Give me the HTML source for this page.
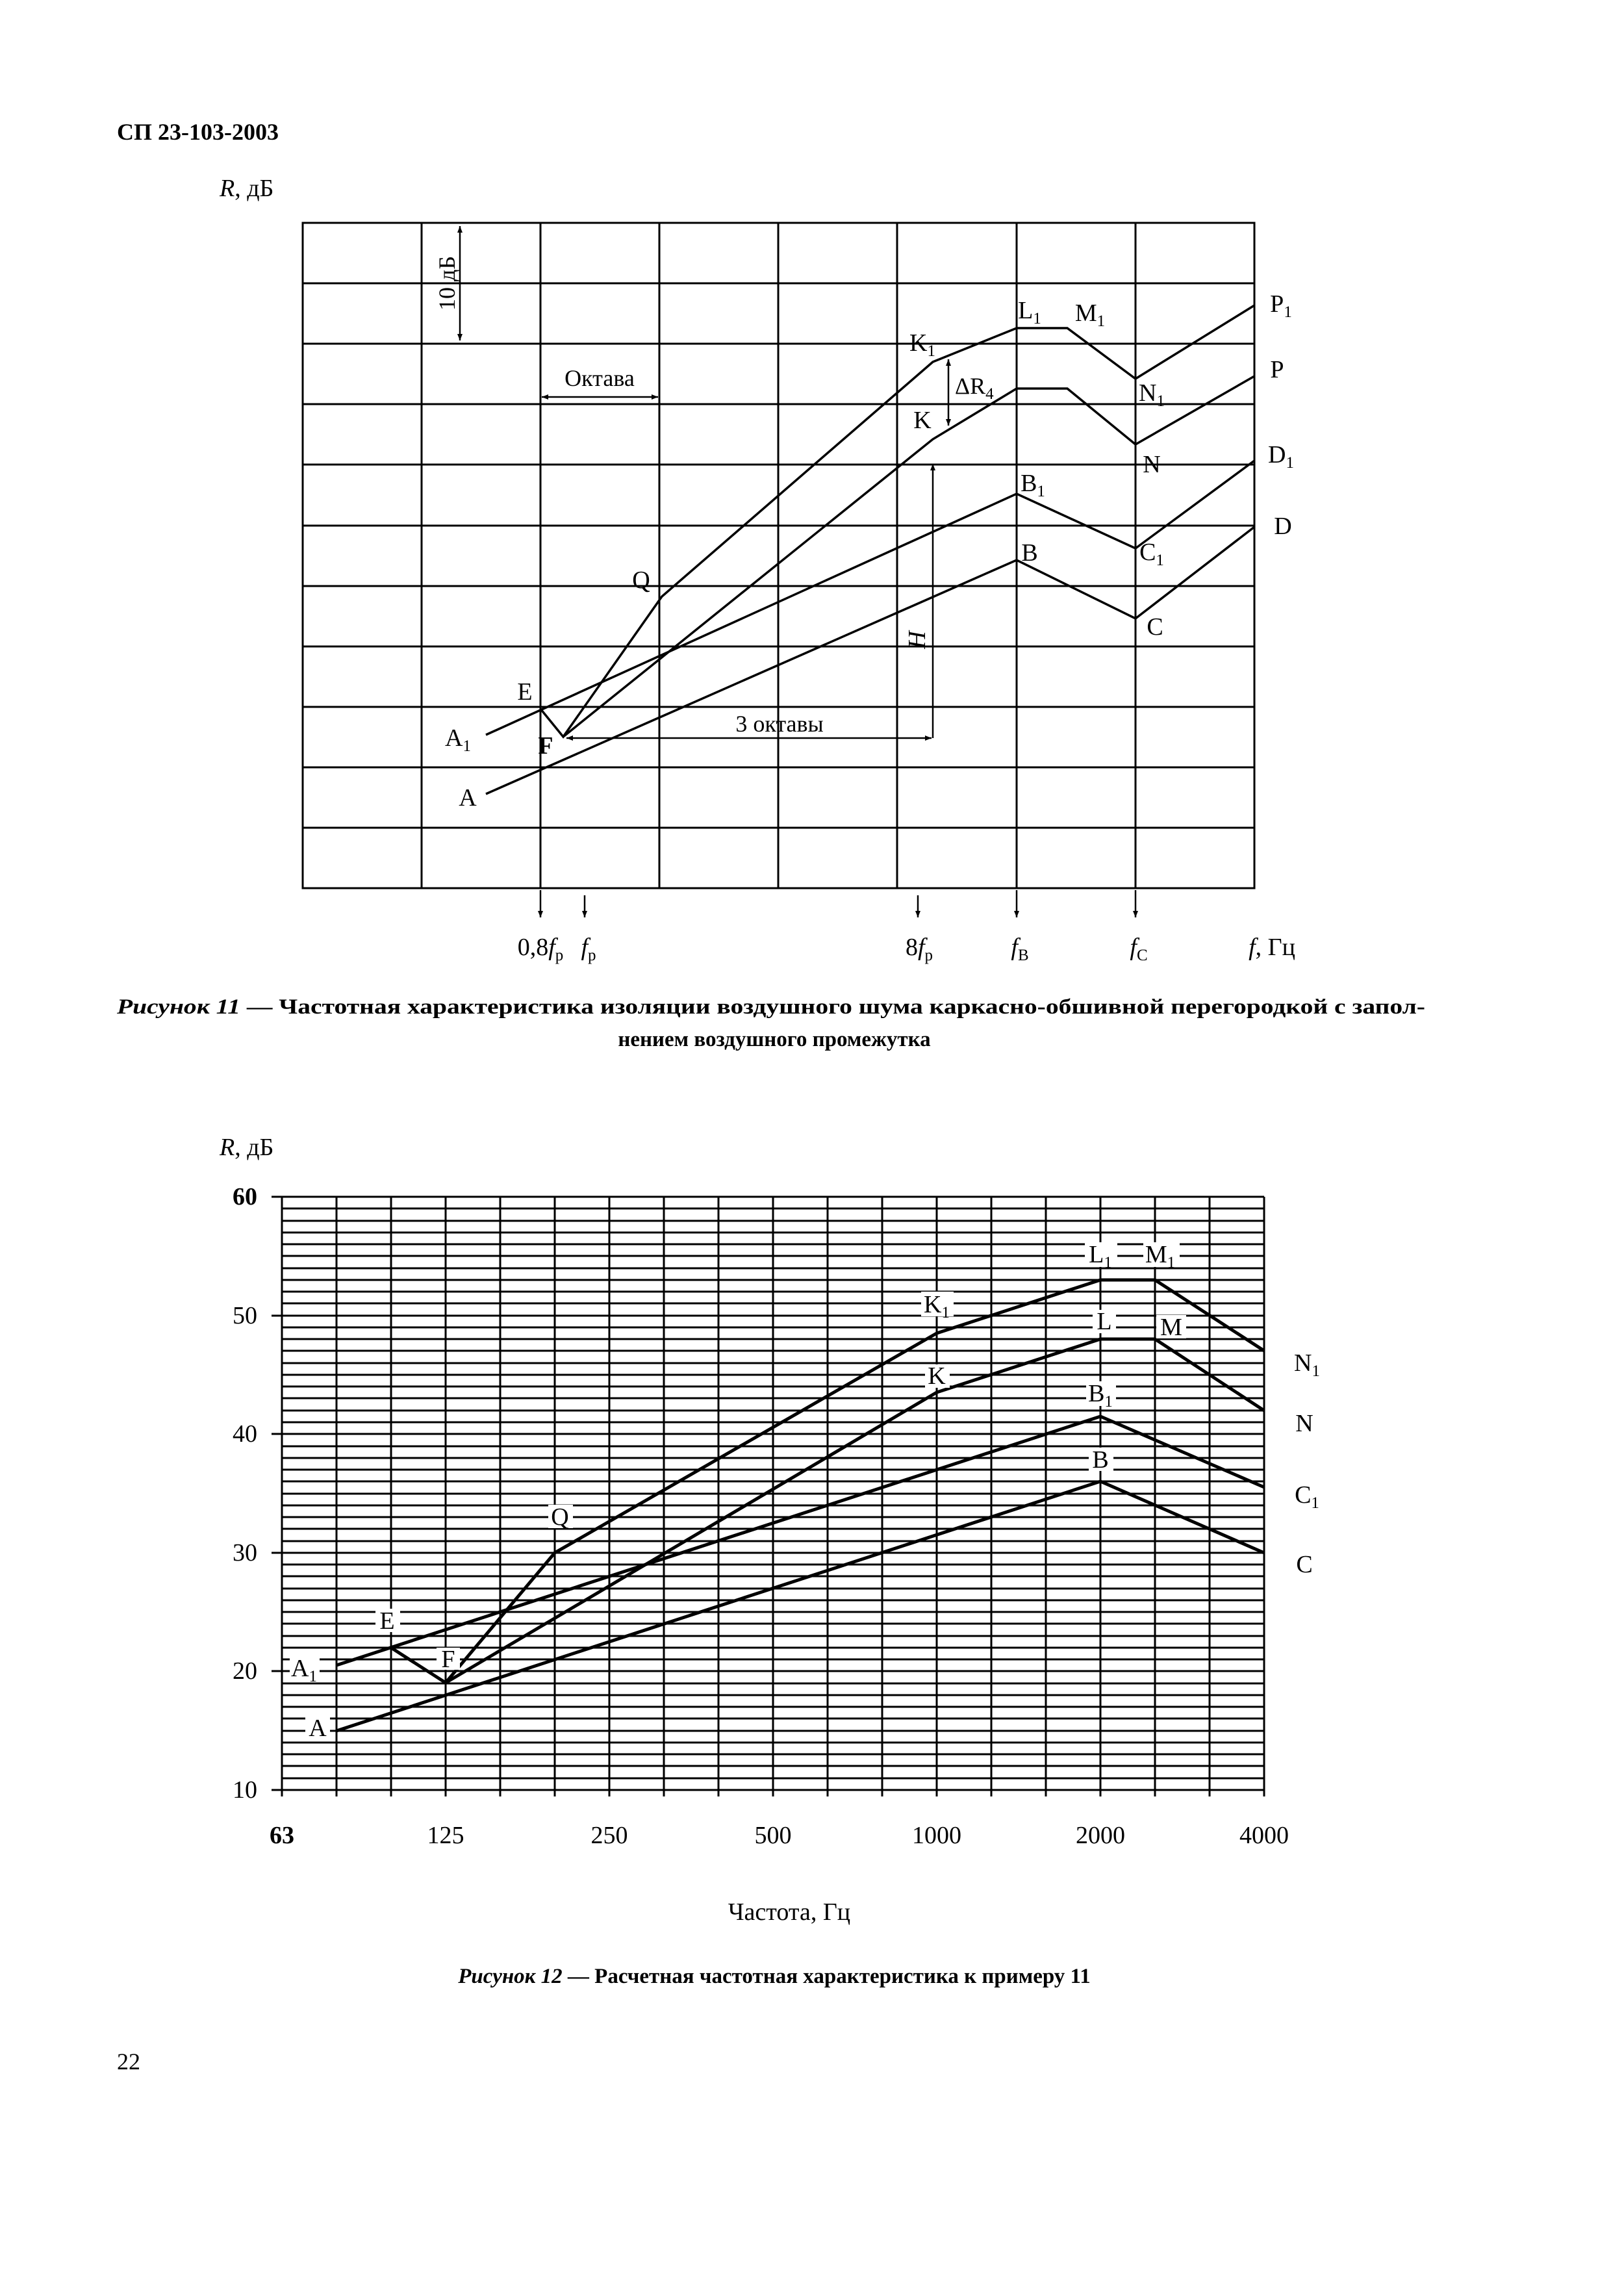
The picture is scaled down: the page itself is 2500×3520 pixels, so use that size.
<!DOCTYPE html>
<html><head><meta charset="utf-8"><style>
html,body{margin:0;padding:0;background:#fff;}
svg{display:block;}
text{font-family:"Liberation Serif",serif;fill:#000;}
</style></head><body>
<svg width="2500" height="3520" viewBox="0 0 2500 3520" xmlns="http://www.w3.org/2000/svg">
<defs>
<marker id="ar" viewBox="0 0 10 10" refX="10" refY="5" markerWidth="18" markerHeight="10" orient="auto-start-reverse" markerUnits="userSpaceOnUse"><path d="M0,1 L10,5 L0,9 Z" fill="#000"/></marker>
</defs>
<text x="180" y="215" font-size="36" font-weight="bold">СП 23-103-2003</text>

<!-- Figure 11 -->
<text x="338" y="302" font-size="38"><tspan font-style="italic">R</tspan>, дБ</text>
<g stroke="#000" stroke-width="3" fill="none">
<rect x="466" y="343" width="1465" height="1024"/>
<path d="M649,343V1367 M832,343V1367 M1015,343V1367 M1198,343V1367 M1381,343V1367 M1565,343V1367 M1748,343V1367"/>
<path d="M466,436H1931 M466,529H1931 M466,622H1931 M466,715H1931 M466,809H1931 M466,902H1931 M466,995H1931 M466,1088H1931 M466,1181H1931 M466,1274H1931"/>
</g>
<g stroke="#000" stroke-width="3.5" fill="none" stroke-linejoin="miter">
<polyline points="748,1222 1565,862 1748,952 1931,811"/>
<polyline points="748,1131 1565,760 1748,844 1931,709"/>
<polyline points="832,1091 867,1134 1019,918 1436,557 1565,505 1643,505 1748,583 1931,470"/>
<polyline points="867,1134 1436,676 1565,598 1643,598 1748,684 1931,579"/>
</g>
<g stroke="#000" stroke-width="2.5" fill="none">
<line x1="708" y1="348" x2="708" y2="524" marker-start="url(#ar)" marker-end="url(#ar)"/>
<line x1="834" y1="611" x2="1013" y2="611" marker-start="url(#ar)" marker-end="url(#ar)"/>
<line x1="872" y1="1136" x2="1434" y2="1136" marker-start="url(#ar)" marker-end="url(#ar)"/>
<line x1="1436" y1="1136" x2="1436" y2="714" marker-end="url(#ar)"/>
<line x1="1460" y1="553" x2="1460" y2="655" marker-start="url(#ar)" marker-end="url(#ar)"/>
<line x1="832" y1="1370" x2="832" y2="1412" marker-end="url(#ar)"/>
<line x1="900" y1="1378" x2="900" y2="1412" marker-end="url(#ar)"/>
<line x1="1413" y1="1378" x2="1413" y2="1412" marker-end="url(#ar)"/>
<line x1="1565" y1="1370" x2="1565" y2="1412" marker-end="url(#ar)"/>
<line x1="1748" y1="1370" x2="1748" y2="1412" marker-end="url(#ar)"/>
</g>
<text transform="translate(700,436) rotate(-90)" font-size="36" text-anchor="middle">10 дБ</text>
<text x="923" y="594" font-size="36" text-anchor="middle">Октава</text>
<text x="1200" y="1126" font-size="36" text-anchor="middle">3 октавы</text>
<text transform="translate(1424,985) rotate(-90)" font-size="38" font-style="italic" text-anchor="middle">H</text>
<text x="1470" y="606" font-size="36">ΔR<tspan font-size="25" dy="8">4</tspan></text>
<g font-size="38" text-anchor="middle">
<text x="1585" y="490">L<tspan font-size="25" dy="8">1</tspan></text>
<text x="1678" y="494">M<tspan font-size="25" dy="8">1</tspan></text>
<text x="1972" y="480">P<tspan font-size="25" dy="8">1</tspan></text>
<text x="1420" y="540">K<tspan font-size="25" dy="8">1</tspan></text>
<text x="1773" y="617">N<tspan font-size="25" dy="8">1</tspan></text>
<text x="1420" y="659">K</text>
<text x="1966" y="581">P</text>
<text x="1773" y="727">N</text>
<text x="1972" y="712">D<tspan font-size="25" dy="8">1</tspan></text>
<text x="1590" y="756">B<tspan font-size="25" dy="8">1</tspan></text>
<text x="1975" y="822">D</text>
<text x="1585" y="863">B</text>
<text x="1773" y="862">C<tspan font-size="25" dy="8">1</tspan></text>
<text x="987" y="905">Q</text>
<text x="1778" y="977">C</text>
<text x="808" y="1077">E</text>
<text x="705" y="1148">A<tspan font-size="25" dy="8">1</tspan></text>
<text x="840" y="1160" font-weight="bold">F</text>
<text x="720" y="1240">A</text>
</g>
<g font-size="38" text-anchor="middle">
<text x="832" y="1470">0,8<tspan font-style="italic">f</tspan><tspan font-size="25" dy="8">р</tspan></text>
<text x="906" y="1470"><tspan font-style="italic">f</tspan><tspan font-size="25" dy="8">р</tspan></text>
<text x="1415" y="1470">8<tspan font-style="italic">f</tspan><tspan font-size="25" dy="8">р</tspan></text>
<text x="1570" y="1470"><tspan font-style="italic">f</tspan><tspan font-size="25" dy="8">В</tspan></text>
<text x="1753" y="1470"><tspan font-style="italic">f</tspan><tspan font-size="25" dy="8">С</tspan></text>
<text x="1958" y="1470"><tspan font-style="italic">f</tspan>, Гц</text>
</g>
<text x="180" y="1560" font-size="33" font-weight="bold" textLength="2014" lengthAdjust="spacingAndGlyphs"><tspan font-style="italic">Рисунок 11</tspan> — Частотная характеристика изоляции воздушного шума каркасно-обшивной перегородкой с запол-</text>
<text x="1192" y="1610" font-size="33" font-weight="bold" text-anchor="middle">нением воздушного промежутка</text>

<!-- Figure 12 -->
<text x="338" y="1778" font-size="38"><tspan font-style="italic">R</tspan>, дБ</text>
<g stroke="#000" stroke-width="3" fill="none">
<path d="M434,1842H1946 M434,1860H1946 M434,1879H1946 M434,1897H1946 M434,1915H1946 M434,1933H1946 M434,1952H1946 M434,1970H1946 M434,1988H1946 M434,2006H1946 M434,2025H1946 M434,2043H1946 M434,2061H1946 M434,2079H1946 M434,2098H1946 M434,2116H1946 M434,2134H1946 M434,2152H1946 M434,2171H1946 M434,2189H1946 M434,2207H1946 M434,2226H1946 M434,2244H1946 M434,2262H1946 M434,2280H1946 M434,2299H1946 M434,2317H1946 M434,2335H1946 M434,2353H1946 M434,2372H1946 M434,2390H1946 M434,2408H1946 M434,2426H1946 M434,2445H1946 M434,2463H1946 M434,2481H1946 M434,2499H1946 M434,2518H1946 M434,2536H1946 M434,2554H1946 M434,2572H1946 M434,2591H1946 M434,2609H1946 M434,2627H1946 M434,2645H1946 M434,2664H1946 M434,2682H1946 M434,2700H1946 M434,2718H1946 M434,2737H1946 M434,2755H1946"/>
<path d="M418,1842H434 M418,2025H434 M418,2207H434 M418,2390H434 M418,2572H434 M418,2755H434"/>
<path d="M434,1842V2765 M518,1842V2765 M602,1842V2765 M686,1842V2765 M770,1842V2765 M854,1842V2765 M938,1842V2765 M1022,1842V2765 M1106,1842V2765 M1190,1842V2765 M1274,1842V2765 M1358,1842V2765 M1442,1842V2765 M1526,1842V2765 M1610,1842V2765 M1694,1842V2765 M1778,1842V2765 M1862,1842V2765 M1946,1842V2765"/>
</g>
<g stroke="#000" stroke-width="5" fill="none">
<polyline points="518,2664 1694,2280 1946,2390"/>
<polyline points="518,2563 1694,2180 1946,2289"/>
<polyline points="602,2536 686,2590 854,2390 1442,2052 1694,1970 1778,1970 1946,2079"/>
<polyline points="686,2590 1442,2143 1694,2061 1778,2061 1946,2171"/>
</g>
<g fill="#fff">
<rect x="578" y="2476" width="38" height="36"/>
<rect x="446" y="2550" width="46" height="36"/>
<rect x="672" y="2536" width="36" height="34"/>
<rect x="470" y="2642" width="38" height="36"/>
<rect x="844" y="2316" width="38" height="36"/>
<rect x="1418" y="1988" width="50" height="38"/>
<rect x="1670" y="1912" width="50" height="38"/>
<rect x="1760" y="1912" width="56" height="38"/>
<rect x="1682" y="2016" width="36" height="36"/>
<rect x="1780" y="2024" width="46" height="36"/>
<rect x="1424" y="2100" width="38" height="36"/>
<rect x="1672" y="2126" width="46" height="38"/>
<rect x="1676" y="2228" width="38" height="36"/>
</g>
<g font-size="38" text-anchor="middle">
<text x="596" y="2507">E</text>
<text x="468" y="2580">A<tspan font-size="25" dy="8">1</tspan></text>
<text x="690" y="2566">F</text>
<text x="489" y="2672">A</text>
<text x="862" y="2347">Q</text>
<text x="1442" y="2020">K<tspan font-size="25" dy="8">1</tspan></text>
<text x="1694" y="1943">L<tspan font-size="25" dy="8">1</tspan></text>
<text x="1786" y="1943">M<tspan font-size="25" dy="8">1</tspan></text>
<text x="1700" y="2046">L</text>
<text x="1803" y="2055">M</text>
<text x="1442" y="2130">K</text>
<text x="1694" y="2157">B<tspan font-size="25" dy="8">1</tspan></text>
<text x="1694" y="2259">B</text>
<text x="2012" y="2110">N<tspan font-size="25" dy="8">1</tspan></text>
<text x="2008" y="2203">N</text>
<text x="2012" y="2313">C<tspan font-size="25" dy="8">1</tspan></text>
<text x="2008" y="2420">C</text>
</g>
<g font-size="38" text-anchor="end">
<text x="396" y="1854" font-weight="bold">60</text>
<text x="396" y="2037">50</text>
<text x="396" y="2219">40</text>
<text x="396" y="2402">30</text>
<text x="396" y="2584">20</text>
<text x="396" y="2767">10</text>
</g>
<g font-size="38" text-anchor="middle">
<text x="434" y="2837" font-weight="bold">63</text>
<text x="686" y="2837">125</text>
<text x="938" y="2837">250</text>
<text x="1190" y="2837">500</text>
<text x="1442" y="2837">1000</text>
<text x="1694" y="2837">2000</text>
<text x="1946" y="2837">4000</text>
</g>
<text x="1215" y="2955" font-size="38" text-anchor="middle">Частота,  Гц</text>
<text x="1192" y="3052" font-size="33" font-weight="bold" text-anchor="middle"><tspan font-style="italic">Рисунок 12</tspan> — Расчетная частотная характеристика к примеру 11</text>
<text x="180" y="3185" font-size="36">22</text>
</svg>
</body></html>
